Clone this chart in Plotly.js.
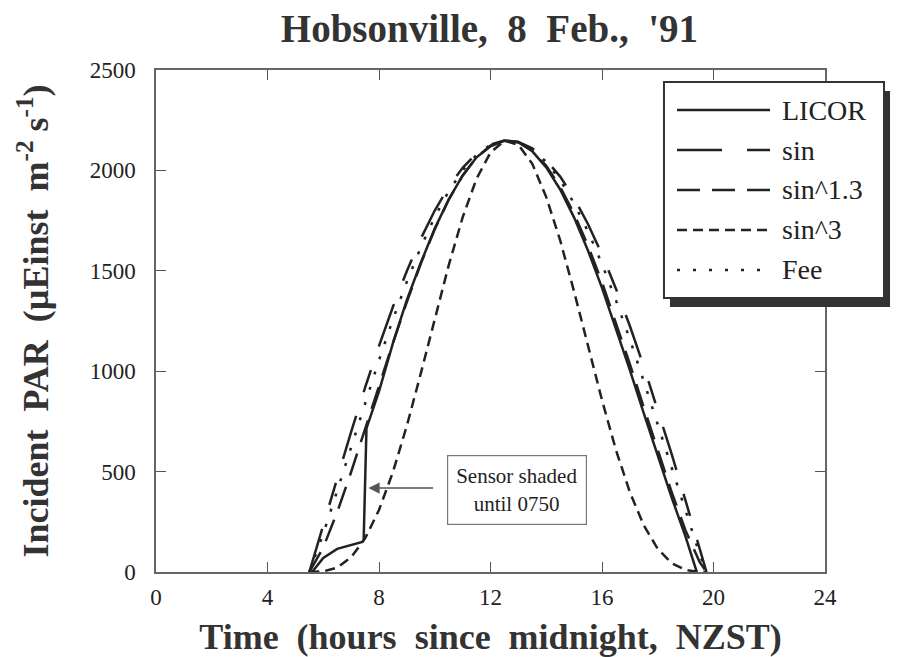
<!DOCTYPE html>
<html>
<head>
<meta charset="utf-8">
<script src="https://cdn.plot.ly/plotly-3.0.1.min.js"></script>
<style>html,body{margin:0;padding:0;background:#fff;font-family:'Liberation Serif';}#chart{width:898px;height:657px;}</style>
</head>
<body>
<div id="chart"></div>
<script>
// Time axis (hours since midnight, NZST) for model curves
const modelHours = [5.5, 6, 6.5, 7, 7.5, 8, 8.5, 9, 9.5, 10, 10.5, 11, 11.5, 12, 12.5, 13, 13.5, 14, 14.5, 15, 15.5, 16, 16.5, 17, 17.5, 18, 18.5, 19, 19.5, 19.75];
const sinPAR   = [0, 237, 470, 698, 918, 1126, 1321, 1499, 1660, 1800, 1918, 2013, 2084, 2129, 2149, 2142, 2110, 2051, 1969, 1862, 1732, 1582, 1411, 1225, 1023, 809, 587, 354, 118, 0];
const sin13PAR = [0, 122, 298, 498, 711, 928, 1141, 1345, 1536, 1707, 1854, 1974, 2065, 2123, 2149, 2140, 2098, 2023, 1918, 1783, 1624, 1443, 1243, 1035, 819, 604, 397, 206, 50, 0];
const sin3PAR  = [0, 3, 22, 74, 167, 309, 498, 729, 989, 1262, 1527, 1766, 1959, 2089, 2148, 2127, 2033, 1867, 1651, 1396, 1125, 856, 608, 397, 232, 115, 44, 10, 0, 0];
const feePAR   = [0, 190, 404, 624, 843, 1055, 1258, 1446, 1617, 1768, 1896, 2000, 2078, 2127, 2149, 2142, 2106, 2042, 1952, 1835, 1695, 1534, 1353, 1158, 950, 734, 515, 295, 89, 0];

// LICOR measurements
const licorHours = [5.6, 6.0, 6.5, 7.0, 7.4, 7.45, 7.55, 8.0, 8.5, 9.0, 9.5, 10, 10.5, 11, 11.5, 12, 12.5, 13, 13.5, 14, 14.5, 15, 15.5, 16, 16.5, 17, 17.5, 18, 18.5, 19, 19.25, 19.4];
const licorPAR   = [0, 70, 115, 135, 150, 160, 715, 900, 1140, 1355, 1540, 1710, 1855, 1975, 2065, 2120, 2148, 2140, 2095, 2015, 1905, 1765, 1600, 1415, 1215, 1005, 790, 575, 370, 175, 70, 0];

const seriesNames = ['LICOR', 'sin', 'sin^1.3', 'sin^3', 'Fee'];
const xTicks = [0, 4, 8, 12, 16, 20, 24];
const yTicks = [0, 500, 1000, 1500, 2000, 2500];

const ink = '#222';
const FONT = 'Liberation Serif';
const dashes = ['solid', '45px,25px,23px,25px', '23px,12px', '10px,6px', '3px,13px'];
const xs = [licorHours, modelHours, modelHours, modelHours, modelHours];
const ys = [licorPAR, sinPAR, sin13PAR, sin3PAR, feePAR];

const traces = seriesNames.map((n, i) => ({
  type: 'scatter', mode: 'lines', hoverinfo: 'skip', showlegend: false,
  x: xs[i], y: ys[i], name: n, line: {color: ink, width: 2.5, dash: dashes[i]}
}));

function axisBase() {
  return {
    showgrid: false, zeroline: false, showline: true, linecolor: '#666', linewidth: 1.5,
    mirror: 'ticks', ticks: 'inside', ticklen: 10, tickwidth: 1.2, tickcolor: '#555',
    tickfont: {family: FONT, size: 23, color: ink, weight: 'normal'}
  };
}

// Legend drawn as a boxed key (paper coordinates)
const legLeft = 0.7593, legRight = 1.0882, legTop = 0.9761, legBottom = 0.5458;
const shadowDx = 0.009, shadowDy = 0.018;
const sampleX0 = 0.7788, sampleX1 = 0.9178, labelX = 0.9327;
const rowY = [0.9203, 0.8406, 0.7610, 0.6813, 0.6016];

const shapes = [
  {type: 'rect', xref: 'paper', yref: 'paper', x0: legLeft + shadowDx, x1: legRight + shadowDx, y0: legBottom - shadowDy, y1: legTop - shadowDy,
   fillcolor: '#333', line: {width: 0}, layer: 'above'},
  {type: 'rect', xref: 'paper', yref: 'paper', x0: legLeft, x1: legRight, y0: legBottom, y1: legTop,
   fillcolor: '#fff', line: {color: '#333', width: 2}, layer: 'above'}
];
const annotations = [];
seriesNames.forEach((n, i) => {
  shapes.push({type: 'line', xref: 'paper', yref: 'paper', x0: sampleX0, x1: sampleX1, y0: rowY[i], y1: rowY[i],
               line: {color: ink, width: 2.5, dash: dashes[i]}, layer: 'above'});
  annotations.push({xref: 'paper', yref: 'paper', x: labelX, y: rowY[i], xanchor: 'left', yanchor: 'middle',
                    text: n, showarrow: false, font: {family: FONT, size: 28, color: ink, weight: 'normal'}});
});
annotations.push(
  {xref: 'x', yref: 'y', x: 12.95, y: 408, text: 'Sensor shaded<br>until 0750', showarrow: false,
   font: {family: FONT, size: 21, color: ink, weight: 'normal'}, bordercolor: '#777', borderwidth: 1.2, borderpad: 8, bgcolor: '#fff'},
  {xref: 'x', yref: 'y', axref: 'x', ayref: 'y', x: 7.62, y: 418, ax: 10.05, ay: 418, text: ' ', showarrow: true,
   arrowhead: 2, arrowsize: 1.6, arrowwidth: 1.4, arrowcolor: '#555'}
);

const xaxis = Object.assign(axisBase(), {range: [0, 24], tickvals: xTicks, ticktext: xTicks.map(String), ticklabelstandoff: 4,
  title: {text: 'Time  (hours  since  midnight,  NZST)', standoff: 14,
          font: {family: FONT, size: 36, color: '#333', weight: 'bold'}}});
const yaxis = Object.assign(axisBase(), {range: [0, 2500], tickvals: yTicks, ticktext: yTicks.map(String), ticklabelstandoff: 14,
  title: {text: 'Incident  PAR  (µEinst  m<sup>-2</sup> s<sup>-1</sup>)', standoff: 30,
          font: {family: FONT, size: 36, color: '#333', weight: 'bold'}}});

const layout = {
  width: 898, height: 657,
  margin: {l: 156, r: 73, t: 70, b: 85},
  font: {family: FONT, color: ink},
  paper_bgcolor: '#fff', plot_bgcolor: '#fff',
  title: {text: "Hobsonville,  8  Feb.,  '91", x: 0.545, xanchor: 'center', y: 0.957, yanchor: 'middle',
          font: {family: FONT, size: 39, color: '#333', weight: 'bold'}},
  xaxis: xaxis,
  yaxis: yaxis,
  showlegend: false,
  shapes: shapes,
  annotations: annotations
};

Plotly.newPlot('chart', traces, layout, {displayModeBar: false});
</script>
</body>
</html>
